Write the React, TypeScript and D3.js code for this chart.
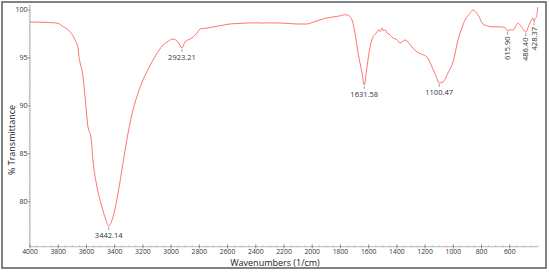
import React, { useEffect, useRef } from 'react';
import * as d3 from 'd3';

// FTIR spectrum
const wavenumbers = [
  4000, 3900, 3837, 3800, 3766, 3740, 3717, 3695, 3681, 3660, 3653, 3646, 3624, 3610, 3589,
  3568, 3554, 3525, 3490, 3465, 3442.14, 3412, 3376, 3341, 3305, 3270, 3235, 3199, 3160, 3128,
  3090, 3057, 3020, 2987, 2951, 2923.21, 2902, 2852, 2816, 2795, 2750, 2703, 2640, 2583, 2520,
  2462, 2400, 2349, 2290, 2228, 2170, 2108, 2037, 1990, 1945, 1900, 1853, 1800, 1770, 1753,
  1735, 1718, 1697, 1675, 1647, 1631.58, 1612, 1590, 1569, 1555, 1541, 1530, 1520, 1505, 1495,
  1485, 1470, 1455, 1440, 1427, 1400, 1378, 1342, 1315, 1293, 1257, 1220, 1187, 1151, 1125,
  1100.47, 1073, 1038, 1002, 967, 940, 917, 885, 860, 825, 790, 760, 719, 690, 655, 630, 615.9,
  595, 577, 560, 542, 525, 486.4, 470, 457, 445, 435, 428.37, 420, 410, 402
];
const transmittance = [
  98.75, 98.72, 98.67, 98.6, 98.26, 98.05, 97.74, 97.3, 96.87, 96.04, 95.1, 94.57, 93.01, 90.92, 87.79,
  86.75, 84.35, 81.53, 79.45, 78.2, 77.46, 78.4, 80.9, 84.04, 87.17, 89.57, 91.3, 92.7, 93.9, 94.78,
  95.7, 96.35, 96.75, 96.97, 96.66, 96.04, 96.66, 97.08, 97.6, 98.02, 98.1, 98.23, 98.4, 98.54, 98.6,
  98.64, 98.66, 98.64, 98.66, 98.64, 98.6, 98.54, 98.54, 98.75, 98.96, 99.15, 99.27, 99.4, 99.5, 99.48,
  99.35, 98.96, 97.6, 95.51, 93.43, 92.17, 94.05, 96.14, 97.18, 97.45, 97.7, 97.95, 97.75, 98.12, 97.8,
  97.95, 97.6, 97.5, 97.25, 97.08, 96.9, 96.56, 96.87, 96.55, 96.14, 95.62, 95.35, 95.1, 94.05, 93.2,
  92.38, 92.49, 93.43, 94.58, 96.87, 98.1, 98.96, 99.6, 100.0, 99.48, 98.54, 98.35, 98.23, 98.25, 98.23, 98.1, 97.81,
  97.95, 97.91, 98.25, 98.64, 98.4, 97.7, 98.2, 98.64, 99.0, 99.17, 98.8, 99.1, 99.3, 100.3
];

const peakWn = [3442.14, 2923.21, 1631.58, 1100.47, 615.9, 486.4, 428.37];
const peakT = [77.46, 96.04, 92.17, 92.38, 97.81, 97.7, 98.8];
const peakText = ['3442.14', '2923.21', '1631.58', '1100.47', '615.90', '486.40', '428.37'];
const peakVertical = [false, false, false, false, true, true, true];

const xTicks = [4000, 3800, 3600, 3400, 3200, 3000, 2800, 2600, 2400, 2200, 2000, 1800, 1600, 1400, 1200, 1000, 800, 600];
const yTicks = [80, 85, 90, 95, 100];

export default function App() {
  const ref = useRef<SVGSVGElement>(null);

  useEffect(() => {
    const svg = d3.select(ref.current);
    svg.selectAll('*').remove();

    const font = "'Open Sans', 'Noto Sans', sans-serif";

    // frame
    svg.append('rect')
      .attr('x', 2).attr('y', 2).attr('width', 544).attr('height', 266)
      .attr('fill', '#fff').attr('stroke', '#5a5a5a').attr('stroke-width', 1.5);

    const x = d3.scaleLinear().domain([4000, 400]).range([30, 538]);
    const y = d3.scaleLinear().domain([75.3, 100]).range([246.7, 10]);

    const axisColor = '#8a8a8a';

    // y axis
    svg.append('line')
      .attr('x1', 30).attr('x2', 30).attr('y1', 5).attr('y2', 246.7)
      .attr('stroke', axisColor).attr('stroke-width', 0.6);
    svg.append('g').selectAll('line')
      .data(d3.range(75.5, 100.6, 0.25))
      .join('line')
      .attr('x1', 28.8).attr('x2', 30)
      .attr('y1', d => y(d)).attr('y2', d => y(d))
      .attr('stroke', axisColor).attr('stroke-width', 0.6);
    svg.append('g').selectAll('line')
      .data(yTicks)
      .join('line')
      .attr('x1', 27.5).attr('x2', 30)
      .attr('y1', d => y(d)).attr('y2', d => y(d))
      .attr('stroke', '#666').attr('stroke-width', 0.7);
    svg.append('g').selectAll('text')
      .data(yTicks)
      .join('text')
      .attr('x', 27.5).attr('y', d => y(d))
      .attr('dy', '0.35em')
      .attr('text-anchor', 'end')
      .attr('font-family', font).attr('font-size', 7)
      .attr('fill', '#333')
      .text(d => d);

    // x axis
    svg.append('line')
      .attr('x1', 30).attr('x2', 538).attr('y1', 246.7).attr('y2', 246.7)
      .attr('stroke', axisColor).attr('stroke-width', 0.6);
    svg.append('g').selectAll('line')
      .data(d3.range(4000, 399, -50))
      .join('line')
      .attr('x1', d => x(d)).attr('x2', d => x(d))
      .attr('y1', 245.5).attr('y2', 246.7)
      .attr('stroke', axisColor).attr('stroke-width', 0.6);
    svg.append('g').selectAll('line')
      .data(xTicks)
      .join('line')
      .attr('x1', d => x(d)).attr('x2', d => x(d))
      .attr('y1', 244.5).attr('y2', 248.5)
      .attr('stroke', '#666').attr('stroke-width', 0.7);
    svg.append('g').selectAll('text')
      .data(xTicks)
      .join('text')
      .attr('x', d => x(d)).attr('y', 253.5)
      .attr('text-anchor', 'middle')
      .attr('font-family', font).attr('font-size', 6.8)
      .attr('fill', '#333')
      .text(d => d);

    // axis titles
    svg.append('text')
      .attr('x', 275).attr('y', 266)
      .attr('text-anchor', 'middle')
      .attr('font-family', font).attr('font-size', 9)
      .attr('fill', '#222')
      .text('Wavenumbers (1/cm)');
    svg.append('text')
      .attr('transform', 'translate(15,140) rotate(-90)')
      .attr('text-anchor', 'middle')
      .attr('font-family', font).attr('font-size', 9)
      .attr('fill', '#222')
      .text('% Transmittance');

    // spectrum
    const pts = wavenumbers.map((w, i) => [w, transmittance[i]] as [number, number]);
    svg.append('path')
      .datum(pts)
      .attr('fill', 'none')
      .attr('stroke', '#ff5a5a')
      .attr('stroke-width', 0.85)
      .attr('d', d3.line<[number, number]>()
        .x(d => x(d[0]))
        .y(d => y(d[1]))
        .curve(d3.curveMonotoneX));

    // peak labels
    const g = svg.append('g');
    peakWn.forEach((w, i) => {
      const px = x(w), py = y(peakT[i]);
      g.append('line')
        .attr('x1', px).attr('x2', px)
        .attr('y1', py + 1).attr('y2', py + 4)
        .attr('stroke', '#777').attr('stroke-width', 0.7);
      if (peakVertical[i]) {
        g.append('text')
          .attr('transform', `translate(${px},${py + 5.5}) rotate(-90)`)
          .attr('dy', '0.35em')
          .attr('text-anchor', 'end')
          .attr('font-family', font).attr('font-size', 7.5)
          .attr('fill', '#333')
          .text(peakText[i]);
      } else {
        g.append('text')
          .attr('x', px).attr('y', py + 12)
          .attr('text-anchor', 'middle')
          .attr('font-family', font).attr('font-size', 7.5)
          .attr('fill', '#333')
          .text(peakText[i]);
      }
    });
  }, []);

  return (
    <svg ref={ref} width={550} height={272}
      style={{ position: 'absolute', left: 0, top: 0, background: '#fff' }} />
  );
}
